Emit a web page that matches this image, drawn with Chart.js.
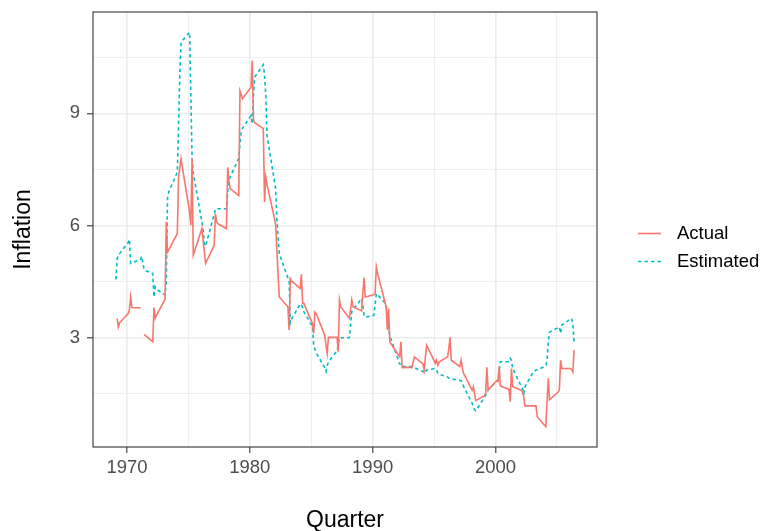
<!DOCTYPE html>
<html>
<head>
<meta charset="utf-8">
<script src="https://cdn.jsdelivr.net/npm/chart.js@4.4.1/dist/chart.umd.min.js"></script>
<style>
  html, body { margin: 0; padding: 0; background: #fff; }
  canvas { display: block; }
</style>
</head>
<body>
<canvas id="chart" width="768" height="531"></canvas>
<script>
// quarter codes: year + q/10
const quarters = [
  1969.1, 1969.2, 1969.3, 1969.4,
  1970.1, 1970.2, 1970.3, 1970.4,
  1971.1, 1971.2, 1971.3, 1971.4,
  1972.1, 1972.2, 1972.3, 1972.4,
  1973.1, 1973.2, 1973.3, 1973.4,
  1974.1, 1974.2, 1974.3, 1974.4,
  1975.1, 1975.2, 1975.3, 1975.4,
  1976.1, 1976.2, 1976.3, 1976.4,
  1977.1, 1977.2, 1977.3, 1977.4,
  1978.1, 1978.2, 1978.3, 1978.4,
  1979.1, 1979.2, 1979.3, 1979.4,
  1980.1, 1980.2, 1980.3, 1980.4,
  1981.1, 1981.2, 1981.3, 1981.4,
  1982.1, 1982.2, 1982.3, 1982.4,
  1983.1, 1983.2, 1983.3, 1983.4,
  1984.1, 1984.2, 1984.3, 1984.4,
  1985.1, 1985.2, 1985.3, 1985.4,
  1986.1, 1986.2, 1986.3, 1986.4,
  1987.1, 1987.2, 1987.3, 1987.4,
  1988.1, 1988.2, 1988.3, 1988.4,
  1989.1, 1989.2, 1989.3, 1989.4,
  1990.1, 1990.2, 1990.3, 1990.4,
  1991.1, 1991.2, 1991.3, 1991.4,
  1992.1, 1992.2, 1992.3, 1992.4,
  1993.1, 1993.2, 1993.3, 1993.4,
  1994.1, 1994.2, 1994.3, 1994.4,
  1995.1, 1995.2, 1995.3, 1995.4,
  1996.1, 1996.2, 1996.3, 1996.4,
  1997.1, 1997.2, 1997.3, 1997.4,
  1998.1, 1998.2, 1998.3, 1998.4,
  1999.1, 1999.2, 1999.3, 1999.4,
  2000.1, 2000.2, 2000.3, 2000.4,
  2001.1, 2001.2, 2001.3, 2001.4,
  2002.1, 2002.2, 2002.3, 2002.4,
  2003.1, 2003.2, 2003.3, 2003.4,
  2004.1, 2004.2, 2004.3, 2004.4,
  2005.1, 2005.2, 2005.3, 2005.4,
  2006.1, 2006.2, 2006.3, 2006.4
];

const actual = [
  null, 3.52, 3.29, 3.40,
  3.65, 3.75, 4.09, 3.81,
  3.80, null, null, 3.09,
  2.89, 3.81, 3.52, 3.60,
  4.03, 6.10, 5.29, 5.35,
  5.79, 7.30, 7.55, 7.79,
  6.36, 6.01, 7.79, 5.21,
  5.92, 5.60, 5.30, 4.99,
  5.47, 6.32, 6.10, 6.05,
  5.92, 7.56, 7.20, 6.99,
  6.80, 9.60, 9.50, 9.39,
  9.70, 10.41, 8.81, 8.75,
  8.59, 6.63, 7.30, 7.10,
  6.05, 5.40, 4.70, 4.09,
  3.83, 3.21, 4.58, 4.52,
  4.32, 4.70, 3.92, 3.92,
  3.38, 3.12, 3.69, 3.65,
  3.07, 2.80, 2.58, 3.01,
  3.01, 2.63, 4.01, 3.83,
  3.52, 3.75, 4.01, 3.83,
  3.72, 4.20, 4.61, 4.09,
  4.15, 4.18, 4.89, 4.72,
  3.83, 3.21, 3.78, 2.89,
  2.54, 2.50, 2.89, 2.20,
  2.21, 2.20, 2.35, 2.49,
  2.30, 2.14, 2.50, 2.80,
  2.32, 2.40, 2.27, 2.35,
  2.49, 2.70, 3.01, 2.40,
  2.23, 2.40, 2.20, 2.05,
  1.60, 1.69, 1.50, 1.32,
  1.45, 1.52, 2.21, 1.60,
  1.85, 1.83, 2.23, 1.71,
  1.62, 1.29, 2.18, 1.69,
  1.60, 1.56, 1.42, 1.18,
  1.18, 1.18, 1.18, 0.89,
  0.62, 1.30, 1.92, 1.34,
  1.55, 1.60, 2.40, 2.18,
  2.18, 2.15, 2.09, 2.67
];

const estimated = [
  4.56, 5.10, 5.21, 5.25,
  5.55, 5.63, 4.99, 5.00,
  5.09, 5.18, 5.00, 4.81,
  4.72, 4.09, 4.36, 4.30,
  4.14, 4.50, 6.72, 6.90,
  7.43, 8.70, 10.00, 10.90,
  11.17, 9.50, 7.80, 7.40,
  6.10, 5.90, 5.50, 5.45,
  6.30, 6.45, 6.45, 6.45,
  6.45, 6.90, 7.21, 7.30,
  7.80, 8.20, 8.50, 8.60,
  8.94, 8.72, 9.50, 9.97,
  10.30, 10.00, 9.50, 8.40,
  7.00, 6.20, 5.70, 5.25,
  4.60, 4.50, 3.40, 3.50,
  3.90, 3.90, 3.80, 3.70,
  3.30, 2.80, 2.70, 2.60,
  2.20, 2.10, 2.25, 2.35,
  2.65, 2.80, 3.00, 3.00,
  3.00, 3.30, 3.70, 3.75,
  4.05, 3.90, 3.60, 3.55,
  3.60, 3.90, 4.18, 4.15,
  3.90, 3.47, 3.25, 3.05,
  2.40, 2.30, 2.30, 2.23,
  2.23, 2.23, 2.20, 2.20,
  2.10, 2.05, 2.10, 2.14,
  2.18, 2.15, 2.05, 2.03,
  1.95, 1.92, 1.90, 1.90,
  1.86, 1.85, 1.80, 1.70,
  1.25, 1.15, 1.08, 1.05,
  1.40, 1.47, 1.55, 1.60,
  1.85, 1.87, 2.10, 2.36,
  2.36, 2.45, 2.40, 2.18,
  1.70, 1.65, 1.50, 1.69,
  2.10, 2.12, 2.14, 2.14,
  2.25, 2.40, 2.90, 3.15,
  3.27, 3.29, 3.12, 3.34,
  3.50, 3.52, 3.34, 2.89
];

const xMajor = [1970, 1980, 1990, 2000];
const xMinor = [1975, 1985, 1995, 2005];
const yMajor = [3, 6, 9];
const yMinor = [1.5, 4.5, 7.5, 10.5];

const seriesNames = ['Actual', 'Estimated'];
const seriesColors = ['#F8766D', '#00BFC4'];

const FONT = '"Liberation Sans", Arial, Helvetica, sans-serif';
Chart.defaults.font.family = FONT;

function toPoints(vals) {
  return quarters.map((q, i) => ({x: q, y: vals[i]}));
}

function gridTicks(major, minor) {
  return function (scale) {
    scale.ticks = major.concat(minor).sort((a, b) => a - b).map(v => ({value: v}));
  };
}

function isMajor(list) {
  return ctx => ctx.tick && list.includes(ctx.tick.value);
}

const panelAndLegend = {
  id: 'panelAndLegend',
  afterDatasetsDraw(chart) {
    const {ctx, chartArea: a} = chart;
    ctx.save();
    ctx.strokeStyle = '#333333';
    ctx.lineWidth = 1.1;
    ctx.strokeRect(a.left, a.top, a.right - a.left, a.bottom - a.top);
    ctx.restore();
  },
  afterDraw(chart) {
    const {ctx} = chart;
    ctx.save();
    const rows = [233.5, 261.5];
    seriesNames.forEach((name, i) => {
      const y = rows[i];
      ctx.strokeStyle = seriesColors[i];
      ctx.lineWidth = 1.6;
      ctx.setLineDash(i === 1 ? [3.5, 3] : []);
      ctx.beginPath();
      ctx.moveTo(638, y);
      ctx.lineTo(661, y);
      ctx.stroke();
      ctx.setLineDash([]);
      ctx.fillStyle = '#000000';
      ctx.font = '18.5px ' + FONT;
      ctx.textBaseline = 'middle';
      ctx.textAlign = 'left';
      ctx.fillText(name, 677, y);
    });
    ctx.restore();
  }
};

new Chart(document.getElementById('chart'), {
  type: 'line',
  data: {
    datasets: [
      {
        label: seriesNames[0],
        data: toPoints(actual),
        borderColor: seriesColors[0],
        borderWidth: 1.6,
        pointRadius: 0,
        spanGaps: false,
        tension: 0
      },
      {
        label: seriesNames[1],
        data: toPoints(estimated),
        borderColor: seriesColors[1],
        borderWidth: 1.6,
        borderDash: [3.5, 3],
        borderCapStyle: 'butt',
        pointRadius: 0,
        tension: 0
      }
    ]
  },
  options: {
    responsive: false,
    animation: false,
    devicePixelRatio: 1,
    layout: { padding: { left: 0, right: 171, top: 12, bottom: 0 } },
    plugins: {
      legend: { display: false },
      tooltip: { enabled: false }
    },
    scales: {
      x: {
        type: 'linear',
        min: 1967.235,
        max: 2008.265,
        afterBuildTicks: gridTicks(xMajor, xMinor),
        afterFit: s => { s.height = 84; s.paddingLeft = 0; s.paddingRight = 0; },
        border: { display: false },
        grid: {
          color: '#EBEBEB',
          lineWidth: ctx => isMajor(xMajor)(ctx) ? 1.6 : 0.8,
          drawTicks: true,
          tickLength: 6,
          tickWidth: 1.1,
          tickColor: ctx => isMajor(xMajor)(ctx) ? '#333333' : 'rgba(0,0,0,0)'
        },
        ticks: {
          autoSkip: false,
          maxRotation: 0,
          padding: 4,
          color: '#4D4D4D',
          font: { size: 18.5 },
          callback: v => xMajor.includes(v) ? String(v) : ''
        },
        title: {
          display: true,
          text: 'Quarter',
          color: '#000000',
          font: { size: 23, lineHeight: 1 },
          padding: { top: 0, bottom: -1 }
        }
      },
      y: {
        type: 'linear',
        min: 0.08,
        max: 11.71,
        afterBuildTicks: gridTicks(yMajor, yMinor),
        afterFit: s => { s.width = 93; s.paddingTop = 0; s.paddingBottom = 0; },
        border: { display: false },
        grid: {
          color: '#EBEBEB',
          lineWidth: ctx => isMajor(yMajor)(ctx) ? 1.6 : 0.8,
          drawTicks: true,
          tickLength: 6,
          tickWidth: 1.1,
          tickColor: ctx => isMajor(yMajor)(ctx) ? '#333333' : 'rgba(0,0,0,0)'
        },
        ticks: {
          autoSkip: false,
          padding: 7,
          color: '#4D4D4D',
          font: { size: 18.5 },
          callback: v => yMajor.includes(v) ? String(v) : ''
        },
        title: {
          display: true,
          text: 'Inflation',
          color: '#000000',
          font: { size: 23, lineHeight: 1 },
          padding: { top: 12, bottom: 0 }
        }
      }
    }
  },
  plugins: [panelAndLegend]
});
</script>
</body>
</html>
